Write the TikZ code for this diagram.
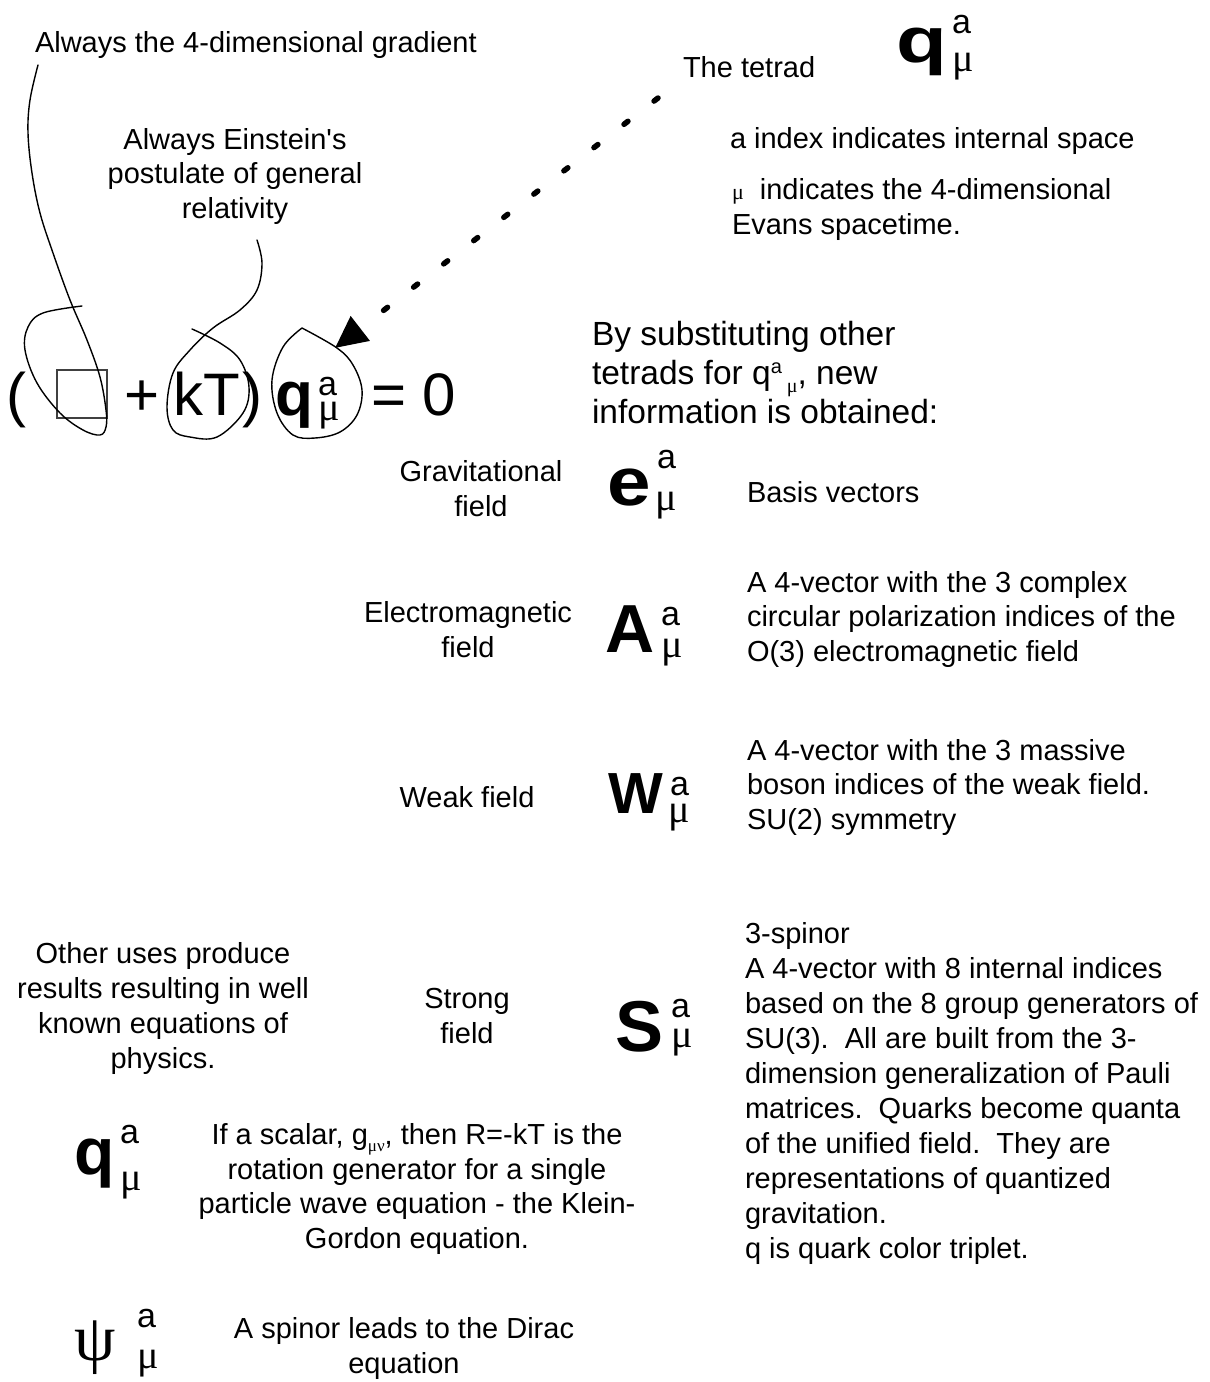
\documentclass[tikz,border=0pt]{standalone}
\usepackage{fontspec}
\setmainfont{Liberation Sans}[Ligatures=TeXOff]
\newfontfamily\grk{Liberation Serif}
\usetikzlibrary{arrows.meta}
\frenchspacing
\begin{document}
\begin{tikzpicture}[x=1pt,y=-1pt,
  every node/.style={inner sep=0pt, outer sep=0pt},
  lab/.style={font=\fontsize{29}{34.5}\selectfont, anchor=base west, align=left},
  labc/.style={font=\fontsize{29}{34.5}\selectfont, anchor=base, align=center},
  bigtxt/.style={font=\fontsize{33.5}{39}\selectfont, anchor=base west, align=left},
  eqtxt/.style={font=\fontsize{60}{60}\selectfont, anchor=base west},
  bsym/.style={anchor=base west, font=\fontsize{#1}{#1}\selectfont\bfseries},
  gsym/.style={anchor=base west, font={\grk\fontsize{#1}{#1}\selectfont}},
  supa/.style={anchor=base west, font=\fontsize{34}{34}\selectfont},
  submu/.style={anchor=base west, font={\grk\fontsize{40}{40}\selectfont}},
  hand/.style={line width=1.4pt, line join=round, line cap=round},
  dotarrow/.style={line width=5.5pt, line cap=round, dash pattern=on 5pt off 33pt,
    -{Triangle[length=32pt,width=30pt]}},
]
\path[use as bounding box] (0,0) rectangle (1210,1382);

% ---------- top annotations (multi-line nodes: base = last line) ----------
\node[lab] (grad) at (35,52) {Always the 4-dimensional gradient};
\node[labc] (ein) at (235,218) {Always Einstein's\\postulate of general\\relativity};
\node[lab] (tetrad) at (683,77) {The tetrad};
\node[bsym=64] (qTop) at (896,62) {\scalebox{1.3}[1]{q}};
\node[supa] (qTopA) at (952,33) {a};
\node[submu] (qTopMu) at (952,71) {μ};
\node[lab] (aidx) at (730,148) {a index indicates internal space};
\node[lab] (muidx) at (732,234) {{\grk\fontsize{22}{22}\selectfont μ}\ \ indicates the 4-dimensional\\Evans spacetime.};

% ---------- equation ----------
\node[eqtxt] (lpar) at (6,415) {(};
\node[draw=black!75, line width=1.3pt, minimum width=50pt, minimum height=48pt, anchor=north west] (box) at (57,370) {};
\node[eqtxt] (plus) at (124,415) {+};
\node[eqtxt] (kT) at (173,415) {kT};
\node[eqtxt] (rpar) at (242,415) {)};
\node[bsym=62] (qEq) at (275,415) {q};
\node[supa] (qEqA) at (318,395) {a};
\node[submu] (qEqMu) at (318,420) {μ};
\node[eqtxt] (eqz) at (371,415) {= 0};

% hand-drawn loops
\draw[hand] plot[smooth, tension=0.6] coordinates {(38,65) (30,100) (28,133) (32,173) (40,213) (53,253) (70,300) (87,340) (100,377) (106,410) (106,427) (100,435) (83,430) (60,413) (37,383) (25,350) (28,327) (43,313) (82,306)};
\draw[hand] plot[smooth, tension=0.6] coordinates {(257,240) (262,263) (257,290) (240,310) (213,328) (190,350) (173,373) (167,407) (173,430) (190,437) (217,437) (243,413) (249,387) (240,360) (220,343) (192,329)};
\draw[hand] plot[smooth, tension=0.6] coordinates {(302,328) (337,348) (353,365) (362,390) (357,415) (340,432) (315,438) (293,435) (277,413) (272,380) (283,347) (302,328)};

% dotted arrow
\coordinate (tail) at (658,98);
\coordinate (head) at (335,348);
\draw[dotarrow] (tail) -- (head);

% ---------- substitution text ----------
\node[bigtxt] (subst) at (592,423) {By substituting other\\tetrads for q\raisebox{11pt}{\fontsize{20}{20}\selectfont a}\hspace{5pt}\raisebox{-8pt}{\grk\fontsize{20}{20}\selectfont μ},\ new\\information is obtained:};

% ---------- field rows ----------
\node[labc] (grav) at (481,516) {Gravitational\\field};
\node[bsym=68] (eSym) at (607,505) {\scalebox{1.15}[1]{e}};
\node[supa] (eA) at (657,468) {a};
\node[submu] (eMu) at (655,510) {μ};
\node[lab] (basis) at (747,502) {Basis vectors};

\node[labc] (em) at (468,657) {Electromagnetic\\field};
\node[bsym=68] (ASym) at (605,652) {A};
\node[supa] (AA) at (661,625) {a};
\node[submu] (AMu) at (661,657) {μ};
\node[lab] (emdesc) at (747,661) {A 4-vector with the 3 complex\\circular polarization indices of the\\O(3) electromagnetic field};

\node[labc] (weak) at (467,807) {Weak field};
\node[bsym=58] (WSym) at (608,813) {W};
\node[supa] (WA) at (670,795) {a};
\node[submu] (WMu) at (668,822) {μ};
\node[lab] (weakdesc) at (747,829) {A 4-vector with the 3 massive\\boson indices of the weak field.\\SU(2) symmetry};

\node[labc] (strong) at (467,1043) {Strong\\field};
\node[bsym=72] (SSym) at (615,1051) {S};
\node[supa] (SA) at (671,1017) {a};
\node[submu] (SMu) at (671,1047) {μ};
\node[lab, font=\fontsize{29}{35}\selectfont] (strongdesc) at (745,1258) {3-spinor\\A 4-vector with 8 internal indices\\based on the 8 group generators of\\SU(3).\ \ All are built from the 3-\\dimension generalization of Pauli\\matrices.\ \ Quarks become quanta\\of the unified field.\ \ They are\\representations of quantized\\gravitation.\\q is quark color triplet.};

% ---------- bottom left ----------
\node[labc, font=\fontsize{29}{35}\selectfont] (other) at (163,1068) {Other uses produce\\results resulting in well\\known equations of\\physics.};
\node[bsym=66] (qBot) at (74,1174) {q};
\node[supa] (qBotA) at (120,1143) {a};
\node[submu] (qBotMu) at (120,1190) {μ};
\node[labc] (kg) at (417,1248) {If a scalar, g\raisebox{-7pt}{\grk\fontsize{17}{17}\selectfont μν}, then R=-kT is the\\rotation generator for a single\\particle wave equation - the Klein-\\Gordon equation.};
\node[gsym=66] (psi) at (74,1360) {ψ};
\node[supa] (psiA) at (137,1327) {a};
\node[submu] (psiMu) at (137,1368) {μ};
\node[labc] (dirac) at (404,1373) {A spinor leads to the Dirac\\equation};
\end{tikzpicture}
\end{document}
